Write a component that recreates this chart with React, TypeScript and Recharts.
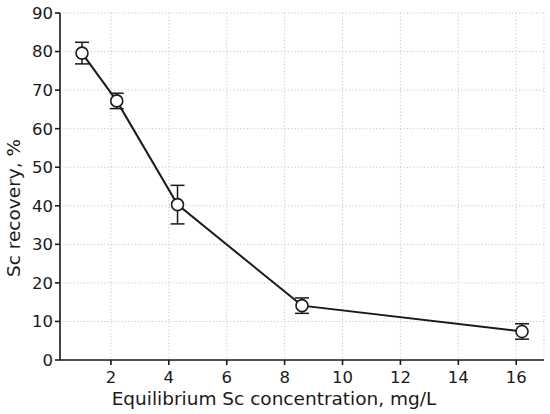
import React from 'react'
import {
  CartesianGrid,
  ErrorBar,
  Label,
  Line,
  LineChart,
  XAxis,
  YAxis,
} from 'recharts'

// Sc recovery vs. equilibrium concentration
const concentration = [1.0, 2.2, 4.3, 8.6, 16.2]
const recovery = [79.6, 67.2, 40.3, 14.1, 7.4]
const recoveryErr = [2.8, 2.0, 5.0, 2.0, 2.0]

const xTicks = [2, 4, 6, 8, 10, 12, 14, 16]
const yTicks = [0, 10, 20, 30, 40, 50, 60, 70, 80, 90]

const data = concentration.map((c, i) => ({
  conc: c,
  rec: recovery[i],
  err: recoveryErr[i],
}))

const font = 'DejaVu Sans, sans-serif'
const ink = '#1a1a1a'

const Marker = (props: any) => {
  const { cx, cy } = props
  if (cx == null || cy == null) return null
  return <circle cx={cx} cy={cy} r={6} fill="#fff" stroke={ink} strokeWidth={1.6} />
}

export default function App() {
  return (
    <div style={{ position: 'absolute', left: 0, top: 0, background: '#fff' }}>
      <LineChart
        width={550}
        height={414}
        data={data}
        margin={{ top: 13, right: 6, left: 0, bottom: 0 }}
        style={{ fontFamily: font }}
      >
        <CartesianGrid stroke="#c8c8c8" strokeDasharray="1.2 2.2" strokeWidth={1} />
        <XAxis
          dataKey="conc"
          type="number"
          domain={[0.24, 16.96]}
          ticks={xTicks}
          allowDataOverflow
          height={54}
          tickSize={5}
          tickMargin={6}
          stroke={ink}
          strokeWidth={1.6}
          tick={{ fill: ink, fontSize: 16.5, fontFamily: font }}
        >
          <Label
            content={() => (
              <text x={274} y={405} textAnchor="middle" fontSize={18.5} fontFamily={font} fill={ink}>
                Equilibrium Sc concentration, mg/L
              </text>
            )}
          />
        </XAxis>
        <YAxis
          type="number"
          domain={[0, 90]}
          ticks={yTicks}
          width={60}
          tickSize={5}
          tickMargin={2}
          stroke={ink}
          strokeWidth={1.6}
          tick={{ fill: ink, fontSize: 16.5, fontFamily: font }}
        >
          <Label
            content={() => (
              <text
                x={20}
                y={208}
                transform="rotate(-90 20 208)"
                textAnchor="middle"
                fontSize={18.5}
                fontFamily={font}
                fill={ink}
              >
                Sc recovery, %
              </text>
            )}
          />
        </YAxis>
        <Line
          type="linear"
          dataKey="rec"
          stroke={ink}
          strokeWidth={2}
          dot={<Marker />}
          activeDot={false}
          isAnimationActive={false}
        >
          <ErrorBar dataKey="err" direction="y" width={7} stroke={ink} strokeWidth={1.5} />
        </Line>
      </LineChart>
    </div>
  )
}
